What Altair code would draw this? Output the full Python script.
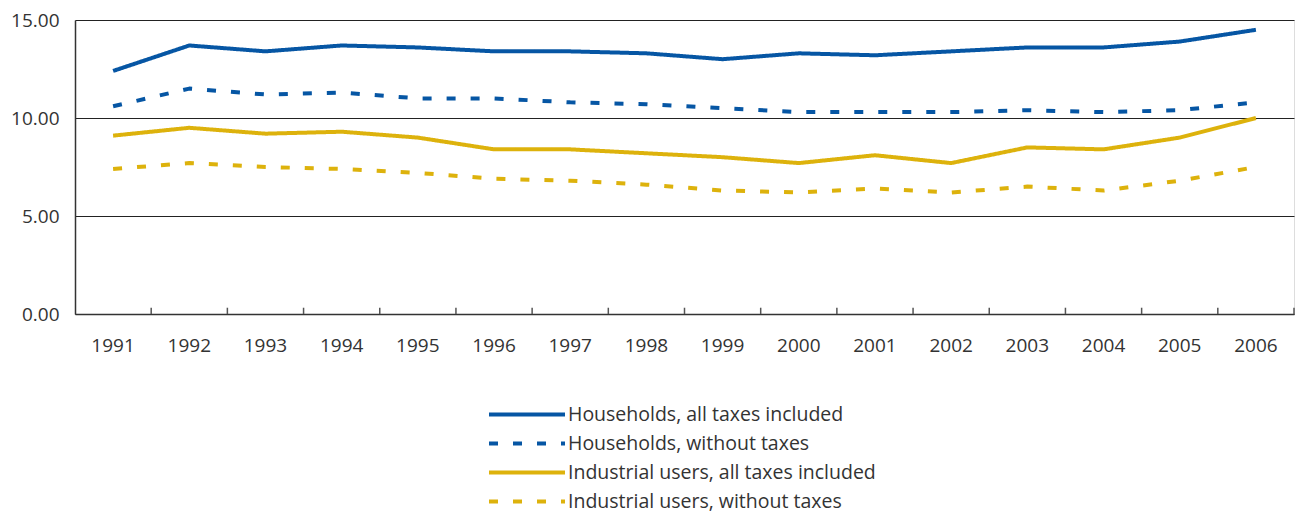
import altair as alt
import pandas as pd

years = [str(y) for y in range(1991, 2007)]
series_names = [
    "Households, all taxes included",
    "Households, without taxes",
    "Industrial users, all taxes included",
    "Industrial users, without taxes",
]
households_all = [12.4, 13.7, 13.4, 13.7, 13.6, 13.4, 13.4, 13.3, 13.0, 13.3, 13.2, 13.4, 13.6, 13.6, 13.9, 14.5]
households_net = [10.6, 11.5, 11.2, 11.3, 11.0, 11.0, 10.8, 10.7, 10.5, 10.3, 10.3, 10.3, 10.4, 10.3, 10.4, 10.8]
industry_all = [9.1, 9.5, 9.2, 9.3, 9.0, 8.4, 8.4, 8.2, 8.0, 7.7, 8.1, 7.7, 8.5, 8.4, 9.0, 10.0]
industry_net = [7.4, 7.7, 7.5, 7.4, 7.2, 6.9, 6.8, 6.6, 6.3, 6.2, 6.4, 6.2, 6.5, 6.3, 6.8, 7.5]

colors = ["#0656A4", "#0656A4", "#DDB20C", "#DDB20C"]
dashes = [[1, 0], [9, 15], [1, 0], [9, 15]]

rows = []
for name, vals in zip(series_names, [households_all, households_net, industry_all, industry_net]):
    for y, v in zip(years, vals):
        rows.append({"Year": y, "Series": name, "Value": v})
df = pd.DataFrame(rows)
ticks_df = pd.DataFrame({"Year": years})

FONT = "Open Sans"
TXT = "#333333"

legend_kw = dict(title=None, orient="none", legendX=412, legendY=383,
                 symbolType="M-1,0H7", symbolSize=361, symbolStrokeWidth=4,
                 labelFontSize=19.5, labelFont=FONT, labelColor=TXT,
                 labelOffset=58, rowPadding=8, labelLimit=600, padding=0)

x_enc = alt.X("Year:N", sort=years,
              scale=alt.Scale(type="band", paddingInner=0, paddingOuter=0),
              axis=alt.Axis(title=None, ticks=False, labelAngle=0, labelFontSize=19,
                            labelFont=FONT, labelColor=TXT, labelPadding=22,
                            domainColor="#333333", domainWidth=1.5, grid=False))
y_scale = alt.Scale(domain=[0, 15], nice=False)

lines = alt.Chart(df).mark_line(strokeWidth=4, strokeCap="butt", strokeJoin="round").encode(
    x=x_enc,
    y=alt.Y("Value:Q", scale=y_scale,
            axis=alt.Axis(title=None, values=[0, 5, 10, 15], format=".2f", ticks=False,
                          labelFontSize=19, labelFont=FONT, labelColor=TXT, labelPadding=16,
                          domainColor="#333333", domainWidth=1.5,
                          grid=True, gridColor="#222222", gridWidth=1.2)),
    color=alt.Color("Series:N", sort=series_names,
                    scale=alt.Scale(domain=series_names, range=colors),
                    legend=alt.Legend(**legend_kw)),
    strokeDash=alt.StrokeDash("Series:N", sort=series_names,
                              scale=alt.Scale(domain=series_names, range=dashes),
                              legend=alt.Legend(**legend_kw)),
)

tick_marks = alt.Chart(ticks_df).mark_rule(color="#555555", strokeWidth=1.5).encode(
    x=alt.X("Year:N", sort=years, bandPosition=1),
    y=alt.datum(0),
    y2=alt.datum(0.32),
)

chart = alt.layer(lines, tick_marks).properties(
    width=1219, height=294,
    autosize=alt.AutoSizeParams(type="none"),
    padding={"left": 75, "top": 20, "right": 1, "bottom": 200},
).configure_view(stroke=None).configure(background="white")

chart.save("out.html", embed_options={"renderer": "svg", "actions": False})
